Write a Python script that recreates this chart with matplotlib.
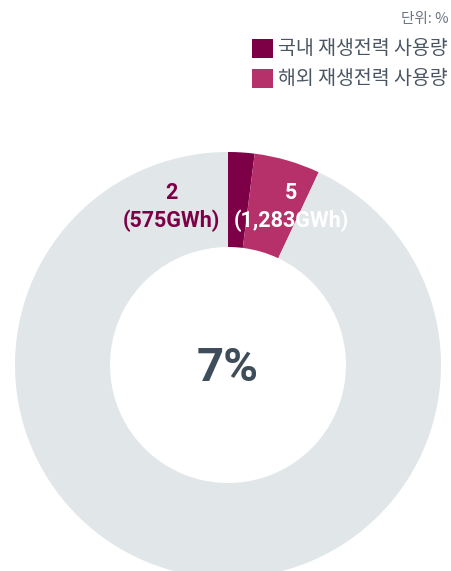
import matplotlib.pyplot as plt
from matplotlib.patches import Rectangle

# data
labels = ['국내 재생전력 사용량', '해외 재생전력 사용량']
values = [2, 5]
gwh = ['575GWh', '1,283GWh']
total = 100
colors = ['#7d0047', '#b63169']
rest_color = '#e1e6e9'

W, H = 451, 571
fig = plt.figure(figsize=(W / 100, H / 100), dpi=100)
ax = fig.add_axes([0, 0, 1, 1])
ax.set_xlim(0, W)
ax.set_ylim(0, H)
ax.set_aspect('equal')
ax.axis('off')

cx, cy, r = 228, H - 365, 213
ring = 95 / 213
sizes = values + [total - sum(values)]
wedges, _ = ax.pie(sizes, colors=colors + [rest_color], startangle=90, counterclock=False,
                   radius=r, center=(cx, cy), frame=True,
                   wedgeprops=dict(width=r * ring, linewidth=0))
ax.set_xlim(0, W)
ax.set_ylim(0, H)
ax.axis('off')

kr = ['Roboto', 'Noto Sans CJK KR']
ax.text(171, H - 207, f'{values[0]}\n({gwh[0]})', ha='center', va='center', color=colors[0],
        fontsize=15.5, fontweight='bold', family=kr, linespacing=1.3)
ax.text(291, H - 207, f'{values[1]}\n({gwh[1]})', ha='center', va='center', color='white',
        fontsize=15.5, fontweight='bold', family=kr, linespacing=1.3)
ax.text(cx, H - 368, f'{sum(values)}%', ha='center', va='center', color='#3f4d5a',
        fontsize=34, fontweight='bold', family=kr)

ax.text(449, H - 19, '단위: %', ha='right', va='center', color='#6b7480',
        fontsize=10.5, family=['Noto Sans CJK KR'])
for i, (lab, col) in enumerate(zip(labels, colors)):
    y = H - (49 + 30 * i)
    ax.add_patch(Rectangle((252, y - 9), 21, 19, color=col, lw=0))
    ax.text(278, y + 1, lab, ha='left', va='center', color='#4a5563',
            fontsize=14, fontweight='medium', family=['Noto Sans CJK KR'])

fig.savefig('out.png', dpi=100)
